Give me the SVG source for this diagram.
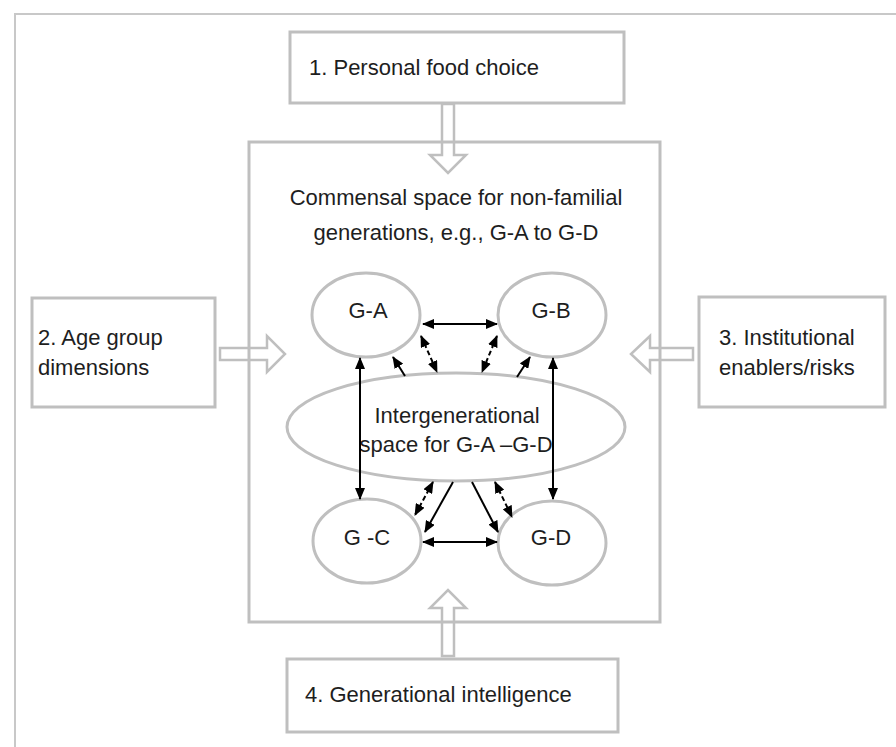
<svg xmlns="http://www.w3.org/2000/svg" width="896" height="747" viewBox="0 0 896 747">
<style>
.box{fill:none;stroke:#bfbfbf;stroke-width:3}
.ell{fill:none;stroke:#bfbfbf;stroke-width:3}
.hol{fill:none;stroke:#bfbfbf;stroke-width:2.5;stroke-linejoin:miter}
.t{font-family:"Liberation Sans",Arial,sans-serif;font-size:22px;fill:#1e1e1e}
.c{text-anchor:middle}
.ln{stroke:#000;stroke-width:2;fill:none}
.dash{stroke-dasharray:5 3}
</style>
<defs>
<marker id="ah" markerUnits="userSpaceOnUse" markerWidth="12" markerHeight="10" viewBox="0 0 12 10" refX="11" refY="5" orient="auto-start-reverse">
<path d="M0,0 L12,5 L0,10 z" fill="#000"/>
</marker>
</defs>
<rect width="896" height="747" fill="#fff"/>
<rect x="15" y="14" width="1000" height="1000" fill="none" stroke="#c8c8c8" stroke-width="2"/>
<g id="main">
<rect class="box" x="249" y="142" width="411" height="480"/>
<text class="t c" x="456" y="205">Commensal space for non-familial</text>
<text class="t c" x="456" y="240">generations, e.g., G-A to G-D</text>
</g>
<g id="box1">
<rect class="box" x="290" y="32" width="334" height="71"/>
<text class="t" x="309" y="75">1. Personal food choice</text>
</g>
<g id="box2">
<rect class="box" x="32" y="298" width="183" height="109"/>
<text class="t" x="38" y="345">2. Age group</text>
<text class="t" x="38" y="375">dimensions</text>
</g>
<g id="box3">
<rect class="box" x="699" y="297" width="186" height="110"/>
<text class="t" x="719" y="345">3. Institutional</text>
<text class="t" x="719" y="375">enablers/risks</text>
</g>
<g id="box4">
<rect class="box" x="287" y="659" width="331" height="73"/>
<text class="t" x="305" y="702">4. Generational intelligence</text>
</g>
<g id="hollow-arrows">
<polygon class="hol" points="442,104 454,104 454,155 466,155 448,173 430,155 442,155"/>
<polygon class="hol" points="220,348 267,348 267,336 285,354 267,372 267,360 220,360"/>
<polygon class="hol" points="693,348 650,348 650,336 631,354 650,372 650,360 693,360"/>
<polygon class="hol" points="442,656 454,656 454,608 466,608 448,590 430,608 442,608"/>
</g>
<g id="GA">
<ellipse class="ell" cx="366" cy="315" rx="54" ry="42"/>
<text class="t c" x="368" y="318">G-A</text>
</g>
<g id="GB">
<ellipse class="ell" cx="552" cy="315" rx="54" ry="42"/>
<text class="t c" x="551" y="318">G-B</text>
</g>
<g id="inter">
<ellipse class="ell" cx="456" cy="427" rx="169" ry="54"/>
<text class="t c" x="457" y="423">Intergenerational</text>
<text class="t c" x="456" y="452">space for G-A –G-D</text>
</g>
<g id="GC">
<ellipse class="ell" cx="367" cy="541" rx="54" ry="42"/>
<text class="t c" x="367" y="545">G -C</text>
</g>
<g id="GD">
<ellipse class="ell" cx="552" cy="543" rx="54" ry="42"/>
<text class="t c" x="551" y="545">G-D</text>
</g>
<g id="connectors">
<line class="ln" x1="423" y1="324" x2="497" y2="324" marker-start="url(#ah)" marker-end="url(#ah)"/>
<line class="ln" x1="423" y1="542" x2="497" y2="542" marker-start="url(#ah)" marker-end="url(#ah)"/>
<line class="ln" x1="360" y1="358" x2="360" y2="499" marker-start="url(#ah)" marker-end="url(#ah)"/>
<line class="ln" x1="553" y1="358" x2="553" y2="499" marker-start="url(#ah)" marker-end="url(#ah)"/>
<line class="ln" x1="405" y1="376" x2="393" y2="357" marker-end="url(#ah)"/>
<line class="ln dash" x1="421" y1="336" x2="437" y2="372" marker-start="url(#ah)" marker-end="url(#ah)"/>
<line class="ln dash" x1="497" y1="336" x2="482" y2="372" marker-start="url(#ah)" marker-end="url(#ah)"/>
<line class="ln" x1="517" y1="377" x2="530" y2="357" marker-end="url(#ah)"/>
<line class="ln dash" x1="433" y1="482" x2="415" y2="515" marker-start="url(#ah)" marker-end="url(#ah)"/>
<line class="ln" x1="453" y1="482" x2="425" y2="532" marker-end="url(#ah)"/>
<line class="ln" x1="472" y1="482" x2="498" y2="532" marker-end="url(#ah)"/>
<line class="ln dash" x1="495" y1="482" x2="512" y2="517" marker-start="url(#ah)" marker-end="url(#ah)"/>
</g>
</svg>
